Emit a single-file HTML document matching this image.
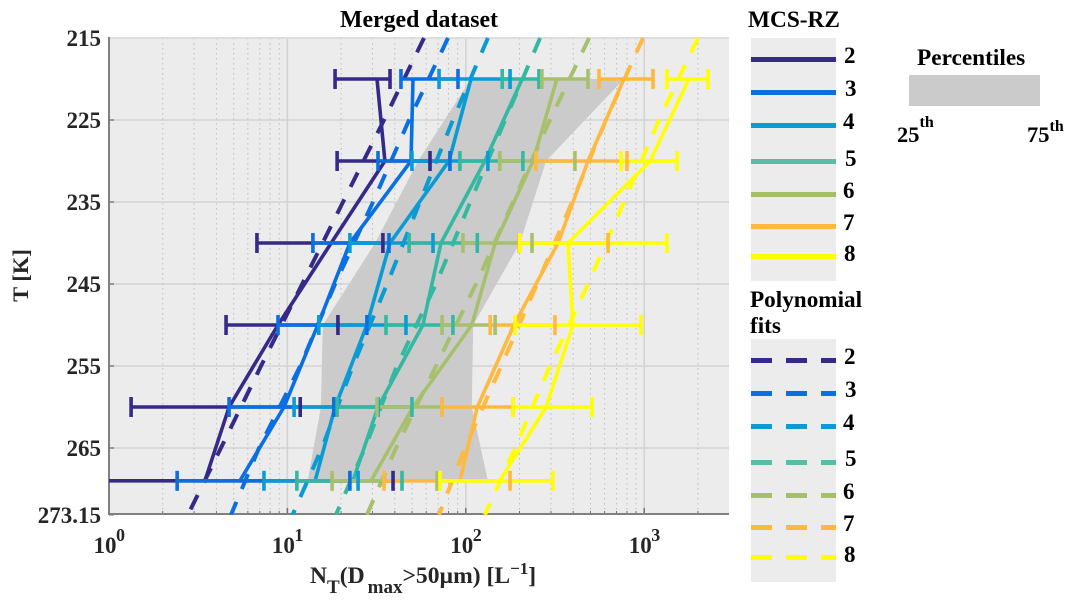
<!DOCTYPE html>
<html>
<head>
<meta charset="utf-8">
<title>Merged dataset</title>
<style>
html,body{margin:0;padding:0;background:#fff;}
svg{display:block;}
text{font-family:"Liberation Serif",serif;font-weight:bold;}
</style>
</head>
<body>
<svg id="chart" xmlns="http://www.w3.org/2000/svg" width="1076" height="602" viewBox="0 0 1076 602">
  <defs><clipPath id="plot-clip"><rect x="109" y="36" width="620" height="479"></rect></clipPath></defs>
  <rect x="109" y="38" width="620" height="476" fill="#ececec"></rect>
  <g id="grid"></g>
  <g id="band" clip-path="url(#plot-clip)"></g>
  <g id="axes"></g>
  <g id="fits" clip-path="url(#plot-clip)"></g>
  <g id="series" clip-path="url(#plot-clip)"></g>
  <g id="caps" clip-path="url(#plot-clip)"></g>

  <text x="419" y="27" font-size="23.8" text-anchor="middle" fill="#000">Merged dataset</text>
  <text transform="translate(28,275.5) rotate(-90)" font-size="22.5" text-anchor="middle" fill="#262626">T [K]</text>
  <text x="310" y="583" font-size="23.6" fill="#262626">N<tspan font-size="19" dy="10">T</tspan><tspan dy="-10">(D</tspan><tspan font-size="19" dy="10" dx="3">max</tspan><tspan dy="-10">&gt;50µm) [L</tspan><tspan font-size="17" dy="-9">−1</tspan><tspan dy="9">]</tspan></text>

  <g>
    <text x="748" y="27" font-size="23.3" fill="#000">MCS-RZ</text>
    <rect x="751" y="38" width="85" height="243" fill="#ececec"></rect>
    <line x1="751" x2="836" y1="59.5" y2="59.5" stroke="#352a87" stroke-width="5"></line>
    <line x1="751" x2="836" y1="92.5" y2="92.5" stroke="#0a6fe0" stroke-width="5"></line>
    <line x1="751" x2="836" y1="125.5" y2="125.5" stroke="#0a9bd4" stroke-width="5"></line>
    <line x1="751" x2="836" y1="161.5" y2="161.5" stroke="#5bbca6" stroke-width="5"></line>
    <line x1="751" x2="836" y1="194.5" y2="194.5" stroke="#a5bf6c" stroke-width="5"></line>
    <line x1="751" x2="836" y1="226.5" y2="226.5" stroke="#ffb93f" stroke-width="5"></line>
    <line x1="751" x2="836" y1="256.5" y2="256.5" stroke="#ffff00" stroke-width="5"></line>
    <text x="844" y="63" font-size="23" fill="#000">2</text>
    <text x="845" y="96" font-size="23" fill="#000">3</text>
    <text x="843" y="129" font-size="23" fill="#000">4</text>
    <text x="845" y="166" font-size="23" fill="#000">5</text>
    <text x="843" y="198" font-size="23" fill="#000">6</text>
    <text x="843" y="230" font-size="23" fill="#000">7</text>
    <text x="844" y="261" font-size="23" fill="#000">8</text>
  </g>

  <g>
    <text x="750" y="307" font-size="23.2" fill="#000">Polynomial</text>
    <text x="750" y="333" font-size="23.2" fill="#000">fits</text>
    <rect x="751" y="339" width="85" height="243" fill="#ececec"></rect>
    <line x1="751" x2="836" y1="360.5" y2="360.5" stroke="#352a87" stroke-width="5" stroke-dasharray="21 14"></line>
    <line x1="751" x2="836" y1="393.5" y2="393.5" stroke="#0a6fe0" stroke-width="5" stroke-dasharray="21 14"></line>
    <line x1="751" x2="836" y1="426.5" y2="426.5" stroke="#0a9bd4" stroke-width="5" stroke-dasharray="21 14"></line>
    <line x1="751" x2="836" y1="462.5" y2="462.5" stroke="#5bbca6" stroke-width="5" stroke-dasharray="21 14"></line>
    <line x1="751" x2="836" y1="495.5" y2="495.5" stroke="#a5bf6c" stroke-width="5" stroke-dasharray="21 14"></line>
    <line x1="751" x2="836" y1="527.5" y2="527.5" stroke="#ffb93f" stroke-width="5" stroke-dasharray="21 14"></line>
    <line x1="751" x2="836" y1="557.5" y2="557.5" stroke="#ffff00" stroke-width="5" stroke-dasharray="21 14"></line>
    <text x="844" y="364" font-size="23" fill="#000">2</text>
    <text x="845" y="397" font-size="23" fill="#000">3</text>
    <text x="843" y="430" font-size="23" fill="#000">4</text>
    <text x="845" y="466" font-size="23" fill="#000">5</text>
    <text x="843" y="499" font-size="23" fill="#000">6</text>
    <text x="843" y="531" font-size="23" fill="#000">7</text>
    <text x="844" y="562" font-size="23" fill="#000">8</text>
  </g>

  <g>
    <text x="917" y="65" font-size="23.3" fill="#000">Percentiles</text>
    <rect x="909" y="75" width="131" height="31" fill="#cbcbcb"></rect>
    <text x="897" y="142" font-size="22.5" fill="#000">25<tspan font-size="16" dy="-15">th</tspan></text>
    <text x="1027" y="142" font-size="22.5" fill="#000">75<tspan font-size="16" dy="-11">th</tspan></text>
  </g>
</svg>
<script>
var seriesNames = ['2', '3', '4', '5', '6', '7', '8'];
var seriesColors = ['#352a87', '#0a6fe0', '#0a9bd4', '#35b8a2', '#a7c06d', '#ffb93f', '#ffff00'];

var levelTemps = [220, 230, 240, 250, 260, 269];
var centers2 = [31.8, 35.2, 17.6, 8.86, 4.71, 3.45];
var lowers2 = [18.5, 19, 6.75, 4.53, 1.33, 0.9];
var uppers2 = [37.6, 63, 34.3, 19.2, 11.8, 39.1];
var centers3 = [50.6, 49.3, 22.4, 14.8, 9.57, 5.42];
var lowers3 = [43.3, 32.2, 13.9, 8.86, 4.71, 2.41];
var uppers3 = [90.4, 81.5, 37.1, 27.9, 18.2, 22.4];
var centers4 = [107, 80.5, 37.6, 27.9, 18.5, 14.3];
var lowers4 = [70.8, 49.9, 22.4, 15, 10.9, 7.39];
var uppers4 = [177, 133, 65.5, 46.2, 32.2, 24.9];
var centers5 = [207, 128, 72.6, 57.5, 32.2, 23.3];
var lowers5 = [160, 92.7, 48.1, 35.7, 19, 11.3];
var uppers5 = [257, 209, 116, 84.7, 49.9, 43.9];
var centers6 = [324, 238, 146, 108, 50.6, 29.4];
var lowers6 = [267, 155, 96.4, 73.6, 31.8, 17.8];
var uppers6 = [484, 409, 235, 146, 73.6, 69];
var centers7 = [770, 484, 329, 186, 116, 92.7];
var lowers7 = [558, 247, 199, 137, 73.6, 34.8];
var uppers7 = [1120, 801, 627, 316, 184, 177];
var centers8 = [1780, 1080, 374, 399, 282, 155];
var lowers8 = [1340, 741, 201, 189, 184, 71.7];
var uppers8 = [2280, 1530, 1340, 960, 510, 308];

var fitTemps = [215, 225, 235, 245, 255, 265, 273.15];
var fit2 = [58.3, 34.8, 20.5, 12.1, 7.11, 4.24, 2.77];
var fit3 = [79.5, 48.1, 30.2, 18.5, 11.8, 6.93, 4.83];
var fit4 = [133, 84.7, 55.3, 36.2, 23.3, 15.6, 10.7];
var fit5 = [261, 166, 106, 68.1, 41.1, 27.2, 18.7];
var fit6 = [491, 296, 184, 114, 68.1, 40.6, 27.9];
var fit7 = [984, 611, 394, 251, 158, 99, 70.8];
var fit8 = [2000, 1210, 770, 484, 296, 189, 128];

var percentile25 = [107, 54, 31, 15.8, 15.4, 13];
var percentile75 = [770, 282, 201, 110, 108, 133];

var yTickLabels = ['215', '225', '235', '245', '255', '265', '273.15'];
var yTickValues = [215, 225, 235, 245, 255, 265, 273.15];
var xDecades = [0, 1, 2, 3];
var xMinorMultipliers = [2, 3, 4, 5, 6, 7, 8, 9];

var allCenters = [centers2, centers3, centers4, centers5, centers6, centers7, centers8];
var allLowers = [lowers2, lowers3, lowers4, lowers5, lowers6, lowers7, lowers8];
var allUppers = [uppers2, uppers3, uppers4, uppers5, uppers6, uppers7, uppers8];
var allFits = [fit2, fit3, fit4, fit5, fit6, fit7, fit8];

var NS = 'http://www.w3.org/2000/svg';
var PLOT_LEFT = 109, PLOT_RIGHT = 729, PLOT_TOP = 38, PLOT_BOTTOM = 514;
function xScale(n) { return PLOT_LEFT + 178.4 * Math.log10(n); }
function yScale(t) { return PLOT_TOP + (t - 215) * 8.2; }
function make(tag, parent, attrs) {
  var el = document.createElementNS(NS, tag);
  for (var k in attrs) { el.setAttribute(k, attrs[k]); }
  parent.appendChild(el);
  return el;
}
function pointsFor(values, temps) {
  return values.map(function (v, i) { return xScale(v).toFixed(1) + ',' + yScale(temps[i]).toFixed(1); }).join(' ');
}

var grid = document.getElementById('grid');
var axes = document.getElementById('axes');
var band = document.getElementById('band');
var fits = document.getElementById('fits');
var seriesLayer = document.getElementById('series');
var capsLayer = document.getElementById('caps');

yTickValues.forEach(function (t, i) {
  var y = yScale(t);
  if (i > 0 && i < yTickValues.length - 1) {
    var g = make('line', grid, { x1: PLOT_LEFT, x2: PLOT_RIGHT, y1: y, y2: y, stroke: '#d9d9d9', 'stroke-width': 2 });
    
    
  }
  var tick = make('line', axes, { x1: PLOT_LEFT, x2: PLOT_LEFT + 5, y1: y, y2: y, stroke: '#808080', 'stroke-width': 1.5 });
  
  
  var label = make('text', axes, { x: 101, y: y + 8, 'font-size': 23, 'text-anchor': 'end', fill: '#262626' });
  label.textContent = yTickLabels[i];
  
  
});

xDecades.forEach(function (d) {
  var x = xScale(Math.pow(10, d));
  if (d > 0) {
    var g = make('line', grid, { x1: x, x2: x, y1: PLOT_TOP, y2: PLOT_BOTTOM, stroke: '#d2d2d2', 'stroke-width': 1.5 });
    
    
  }
  var tick = make('line', axes, { x1: x, x2: x, y1: PLOT_BOTTOM - 6, y2: PLOT_BOTTOM, stroke: '#707070', 'stroke-width': 1.5 });
  
  
  var label = make('text', axes, { x: x - 15.5, y: 553, 'font-size': 23, fill: '#262626' });
  label.textContent = '10';
  
  
  var exp = make('text', axes, { x: x + 7, y: 541, 'font-size': 18, fill: '#262626' });
  exp.textContent = String(d);
  
  
  xMinorMultipliers.forEach(function (m) {
    var v = m * Math.pow(10, d);
    var mx = xScale(v);
    if (mx > PLOT_RIGHT) { return; }
    var dot = make('line', grid, { x1: mx, x2: mx, y1: PLOT_TOP, y2: PLOT_BOTTOM, stroke: '#bdbdbd', 'stroke-width': 1, 'stroke-dasharray': '1.5 3.5' });
    
    
    var mt = make('line', axes, { x1: mx, x2: mx, y1: PLOT_BOTTOM - 3, y2: PLOT_BOTTOM, stroke: '#707070', 'stroke-width': 1 });
    
    
  });
});

var topEdge = make('line', axes, { x1: PLOT_LEFT, x2: PLOT_RIGHT, y1: PLOT_TOP, y2: PLOT_TOP, stroke: '#dedede', 'stroke-width': 2 });


var leftAxis = make('line', axes, { x1: PLOT_LEFT, x2: PLOT_LEFT, y1: PLOT_TOP - 1, y2: PLOT_BOTTOM + 1, stroke: '#808080', 'stroke-width': 2 });


var bottomAxis = make('line', axes, { x1: PLOT_LEFT, x2: PLOT_RIGHT, y1: PLOT_BOTTOM, y2: PLOT_BOTTOM, stroke: '#808080', 'stroke-width': 2 });



var bandTemps = levelTemps.concat(levelTemps.slice().reverse());
var bandValues = percentile25.concat(percentile75.slice().reverse());
var poly = make('polygon', band, { points: pointsFor(bandValues, bandTemps), fill: '#cbcbcb' });



seriesNames.forEach(function (name, s) {
  var color = seriesColors[s];
  var fitLine = make('polyline', fits, { points: pointsFor(allFits[s], fitTemps), fill: 'none', stroke: color, 'stroke-width': 4, 'stroke-dasharray': '16 14' });
  
  
});

seriesNames.forEach(function (name, s) {
  var color = seriesColors[s];
  levelTemps.forEach(function (t, i) {
    var y = yScale(t);
    var bar = make('line', seriesLayer, { x1: xScale(allLowers[s][i]), x2: xScale(allUppers[s][i]), y1: y, y2: y, stroke: color, 'stroke-width': 3.6 });
    
    
    [allLowers[s][i], allUppers[s][i]].forEach(function (v) {
      var cap = make('line', capsLayer, { x1: xScale(v), x2: xScale(v), y1: y - 10, y2: y + 10, stroke: color, 'stroke-width': 3.6 });
      
      
    });
  });
  var line = make('polyline', seriesLayer, { points: pointsFor(allCenters[s], levelTemps), fill: 'none', stroke: color, 'stroke-width': 3.6, 'stroke-linejoin': 'round' });
  
  
});
</script>
</body>
</html>
